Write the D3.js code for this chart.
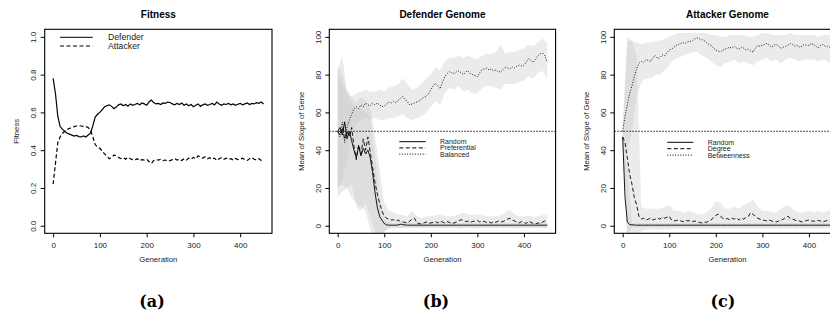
<!DOCTYPE html>
<html>
<head>
<meta charset="utf-8">
<script src="https://cdn.jsdelivr.net/npm/d3@7"></script>
<style>
  body { margin: 0; background: #fff; }
  svg { display: block; font-family: "Liberation Sans", Arial, sans-serif; }
</style>
</head>
<body>
<svg width="830" height="321"></svg>
<script>
// generations sampled every 5 (lines) and every 10 (bands)
let gens = d3.range(0, 451, 5)
let bandGens = d3.range(0, 451, 10)
let xTicks = [0, 100, 200, 300, 400]

// (a) Fitness
let fitDefender = [0.78,0.70,0.58,0.525,0.51,0.50,0.49,0.485,0.48,0.475,0.478,0.472,0.47,0.475,0.47,0.48,0.49,0.53,0.575,0.59,
  0.60,0.615,0.63,0.635,0.64,0.632,0.62,0.628,0.64,0.645,0.635,0.642,0.633,0.645,0.638,0.642,0.648,0.64,0.65,0.645,
  0.638,0.655,0.665,0.652,0.645,0.648,0.642,0.65,0.648,0.655,0.652,0.645,0.64,0.648,0.642,0.65,0.638,0.645,0.635,0.642,
  0.63,0.638,0.645,0.632,0.64,0.645,0.638,0.642,0.648,0.64,0.655,0.645,0.638,0.645,0.642,0.648,0.64,0.645,0.638,0.643,
  0.648,0.64,0.645,0.65,0.642,0.648,0.645,0.652,0.648,0.655,0.645]
let fitAttacker = [0.22,0.33,0.44,0.47,0.49,0.50,0.51,0.515,0.52,0.525,0.528,0.53,0.528,0.526,0.525,0.52,0.505,0.47,0.43,0.415,
  0.41,0.395,0.38,0.368,0.355,0.36,0.375,0.37,0.362,0.355,0.36,0.352,0.362,0.355,0.35,0.348,0.355,0.345,0.35,0.348,
  0.352,0.34,0.33,0.345,0.35,0.348,0.352,0.345,0.348,0.342,0.345,0.35,0.355,0.348,0.352,0.345,0.355,0.348,0.358,0.352,
  0.362,0.355,0.37,0.362,0.358,0.365,0.355,0.36,0.352,0.358,0.345,0.355,0.36,0.352,0.358,0.35,0.355,0.348,0.356,0.35,
  0.352,0.358,0.35,0.346,0.355,0.36,0.352,0.348,0.355,0.345,0.352]

// (b) Defender genome
let defRandom = [50,52,48,55,46,50,45,40,36,42,37,41,38,40,36,28,18,10,5,3,
  1.2,0.5,0.3,0.3,0.3,0.3,0.4,0.8,0.6,0.4,0.3,0.3,0.3,0.3,0.3,0.3,0.3,0.3,0.3,0.3,
  0.3,0.3,0.3,0.3,0.3,0.3,0.3,0.3,0.3,0.3,0.3,0.3,0.3,0.3,0.3,0.3,0.3,0.3,0.3,0.3,
  0.3,0.3,0.3,0.3,0.3,0.3,0.3,0.3,0.3,0.3,0.3,0.3,0.3,0.3,0.3,0.3,0.3,0.3,0.3,0.3,
  0.3,0.3,0.3,0.3,0.3,0.3,0.3,0.3,0.3,0.3,0.3]
let defPreferential = [50,48,52,46,50,47,52,42,35,43,38,46,40,47,39,31,23,17,12,8,
  5,4,3.5,3,3.2,2.5,3,2.2,2,1.8,1.5,2.5,3.5,4,1.5,1.2,0.8,1.5,2,1.2,
  1.5,1.8,2.2,1.5,2.5,2,1.5,2.2,1.8,1.2,1.5,2,2.5,3.2,2.8,2.2,2.5,1.8,2.2,2.5,
  2.8,2,2.5,2.2,1.8,2,1.5,2.2,1.8,2.5,2,2.2,2.8,3.5,4,3,2.5,2,1.5,2.2,
  1.8,1.2,2.5,1.8,1.2,1,1.5,1.2,2,2.5,2]
let defBalanced = [50,47,55,44,52,56,59,62,63,62,64,63,65,64,63.5,65,64,65,64,63,
  63.5,64.5,65.5,65,66,65,66.5,67.5,68.5,67,65.5,64,64.5,65,65.5,66,67,68,68.5,70,
  72,74,75.5,74,72.5,76,79,80.5,81.5,81,80.5,81.5,82,81,80,81.5,82,80.5,80,79.5,
  79,81,82.5,83,83.5,82.5,83,82,82.5,81.5,81.5,82.5,84,83.5,83,84,83.5,84.5,85,84.5,
  85,86.5,88.5,87.5,86.5,88,90,91,91.5,90,86.5]
let defRandomHi = [80,75,70,65,62,62,60,58,38,15,4,2,1.5,1.5,1.5,1.5,1.5,1.5,1.5,1.5,1.5,1.5,1.5,1.5,
  1.5,1.5,1.5,1.5,1.5,1.5,1.5,1.5,1.5,1.5,1.5,1.5,1.5,1.5,1.5,1.5,1.5,1.5,1.5,1.5,1.5,1.5]
let defRandomLo = [20,22,20,15,12,10,8,-2,-6,-6,-3,-1.5,-1.2,-1.2,-1.2,-1.2,-1.2,-1.2,-1.2,-1.2,-1.2,-1.2,-1.2,-1.2,
  -1.2,-1.2,-1.2,-1.2,-1.2,-1.2,-1.2,-1.2,-1.2,-1.2,-1.2,-1.2,-1.2,-1.2,-1.2,-1.2,-1.2,-1.2,-1.2,-1.2,-1.2,-1.2]
let defPrefHi = [85,80,72,68,65,68,66,62,48,30,12,8,7,6,5.5,5,8,5,4,5,5,5.5,6,5,5,5,6,7,6,5.5,
  6,5.5,5,5,5,5.5,7,8.5,6,5,5,5.5,4.5,5,5.5,5.5]
let defPrefLo = [15,18,20,22,10,8,12,5,-3,-5,-3,-1,-1,-1,-1,-1,-1,-1,-1,-1,-1,-1,-1,-1,-1,-1,-1,-1,-1,-1,
  -1,-1,-1,-1,-1,-1,-1,-1,-1,-1,-1,-1,-1,-1,-1,-1]
let defBalHi = [82,90,70,68,70,71,72,71,71,72,71,73,74,75,78,75,72,73,75,78,80,84,82,87,89,89,90,89,90,89,
  88,90,91,91,92,96,91,92,92,93,94,96,95,97,99,97]
let defBalLo = [20,25,35,48,54,56,57,56,57,56,56,57,57,58,59,57,56,57,58,60,63,66,64,70,73,72,74,71,72,70,
  70,73,74,74,73,72,75,75,75,76,77,79,78,81,82,78]

// (c) Attacker genome
let attRandom = [47,15,2,0.6,0.5,0.4,0.3,0.3,0.3,0.3,0.3,0.3,0.3,0.3,0.3,0.3,0.3,0.3,0.3,0.3,
  0.3,0.3,0.3,0.3,0.3,0.3,0.3,0.3,0.3,0.3,0.3,0.3,0.3,0.3,0.3,0.3,0.3,0.3,0.3,0.3,
  0.3,0.3,0.3,0.3,0.3,0.3,0.3,0.3,0.3,0.3,0.3,0.3,0.3,0.3,0.3,0.3,0.3,0.3,0.3,0.3,
  0.3,0.3,0.3,0.3,0.3,0.3,0.3,0.3,0.3,0.3,0.3,0.3,0.3,0.3,0.3,0.3,0.3,0.3,0.3,0.3,
  0.3,0.3,0.3,0.3,0.3,0.3,0.3,0.3,0.3,0.3,0.3]
let attDegree = [47,44,36,27,22,15,11,5,3.5,4,3,3.5,4,3,3.5,4,3.5,4.5,4,4.5,
  5,3,2.5,2.8,3,2.5,2.2,3,2.5,2.8,2.2,2.5,2,1.8,1.5,2,1.8,2.5,3,4.5,
  5.5,6.2,5,4,3.5,3.8,3.2,4,3.5,4.2,3,4,3.5,4.5,5,7,6,5,4,3.5,
  3,2.8,2.5,3,2.5,2.2,2,2.5,3,3.5,4.5,5,4,3.5,3,2.5,2.5,2,2.2,2.8,
  3,2.5,2.5,2.2,2.8,2.5,2,2.5,2.8,2.5,2.5]
let attBetweenness = [50,58,64,70,74,79,83,86,87,86.5,88,87.5,87,89,90,88.5,89,90.5,90,91.5,
  93,93.5,94.5,95.5,96,96.5,97,96.5,97.5,97.5,98,99,99.5,99,98.5,98,97,96,95.5,94,
  93,92.5,92,93,93.5,94,94.5,94,95,94,93.5,94.5,94,93,93.5,92.5,92,94,95.5,95,
  95.5,96,96.5,95.5,94.5,95.5,96,95,94,94.5,95,95.5,96.5,96,95,95.5,94.5,95,96,95.5,
  95.5,96.5,96,95,94,95.5,96,95,95,94.5,93]
let attRandomHi = [50,30,1.5,1.5,1.5,1.5,1.5,1.5,1.5,1.5,1.5,1.5,1.5,1.5,1.5,1.5,1.5,1.5,1.5,1.5,1.5,1.5,1.5,
  1.5,1.5,1.5,1.5,1.5,1.5,1.5,1.5,1.5,1.5,1.5,1.5,1.5,1.5,1.5,1.5,1.5,1.5,1.5,1.5,1.5,1.5,1.5]
let attRandomLo = [40,-5,-1,-0.8,-0.8,-0.8,-0.8,-0.8,-0.8,-0.8,-0.8,-0.8,-0.8,-0.8,-0.8,-0.8,-0.8,-0.8,-0.8,-0.8,-0.8,-0.8,-0.8,
  -0.8,-0.8,-0.8,-0.8,-0.8,-0.8,-0.8,-0.8,-0.8,-0.8,-0.8,-0.8,-0.8,-0.8,-0.8,-0.8,-0.8,-0.8,-0.8,-0.8,-0.8,-0.8,-0.8]
let attDegHi = [52,100,98,90,10,9,9,9,9,10,11,8,8,7,8,7,6,6,7,9,13,12,9,9,10,9,11,12,14,10,
  8,8,7,7,9,11,10,8,7,7,8,7,8,7,8,8]
let attDegLo = [42,-5,-5,-5,-3,-2,-2,-2,-2,-2,-2,-1.5,-1.5,-1.5,-1.5,-1.5,-1.5,-1.5,-1.5,-1.5,-1.5,-1.5,-1.5,-1.5,
  -1.5,-1.5,-1.5,-1.5,-1.5,-1.5,-1.5,-1.5,-1.5,-1.5,-1.5,-1.5,-1.5,-1.5,-1.5,-1.5,-1.5,-1.5,-1.5,-1.5,-1.5,-1.5]
let attBetHi = [52,98,98,97,96,97,97,98,98,99,100,101,102,102,102,102,102,102,102,101,101,100,100,101,101,101,101,100,100,101,
  102,102,101,101,101,101,102,101,101,101,101,101,100,101,101,101]
let attBetLo = [48,40,50,68,76,78,78,80,80,82,85,88,89,90,91,92,92,90,89,87,85,84,86,87,88,86,87,86,85,87,
  88,89,87,88,86,88,89,88,87,88,88,88,87,88,87,85]

let svg = d3.select('svg')
let solid = null
let dashed = '4,2.5'
let dotted = '1,1.6'

let panels = [
  {
    title: 'Fitness', ylab: 'Fitness', left: 44.7, right: 272,
    yDomain: [-0.04, 1.04], yTicks: [0, 0.2, 0.4, 0.6, 0.8, 1.0], yFmt: d3.format('.1f'),
    bands: [],
    lines: [{ v: fitDefender, dash: solid }, { v: fitAttacker, dash: dashed }],
    legend: { x1: 60, x2: 92.7, tx: 108, y0: 37.3, dy: 8.7, size: 8.7, labels: ['Defender', 'Attacker'], dashes: [solid, dashed] },
    ref: null, tag: '(a)'
  },
  {
    title: 'Defender Genome', ylab: 'Mean of Slope of Gene', left: 329.3, right: 555.6,
    yDomain: [-4, 104], yTicks: [0, 20, 40, 60, 80, 100], yFmt: d3.format('d'),
    bands: [[defBalLo, defBalHi], [defRandomLo, defRandomHi], [defPrefLo, defPrefHi]],
    lines: [{ v: defRandom, dash: solid }, { v: defPreferential, dash: dashed }, { v: defBalanced, dash: dotted }],
    legend: { x1: 399.3, x2: 425.7, tx: 440, y0: 141.7, dy: 6.2, size: 7, labels: ['Random', 'Preferential', 'Balanced'], dashes: [solid, dashed, dotted] },
    ref: 50, tag: '(b)'
  },
  {
    title: 'Attacker Genome', ylab: 'Mean of Slope of Gene', left: 614.3, right: 840.6,
    yDomain: [-4, 104], yTicks: [0, 20, 40, 60, 80, 100], yFmt: d3.format('d'),
    bands: [[attBetLo, attBetHi], [attRandomLo, attRandomHi], [attDegLo, attDegHi]],
    lines: [{ v: attRandom, dash: solid }, { v: attDegree, dash: dashed }, { v: attBetweenness, dash: dotted }],
    legend: { x1: 667.3, x2: 693.3, tx: 707.7, y0: 142.3, dy: 6.4, size: 7, labels: ['Random', 'Degree', 'Betweenness'], dashes: [solid, dashed, dotted] },
    ref: 50, tag: '(c)'
  }
]

let plotTop = 29.3
let plotBottom = 233.3

let drawPanel = (p, k) => {
  let x = d3.scaleLinear().domain([-18, 468]).range([p.left, p.right])
  let y = d3.scaleLinear().domain(p.yDomain).range([plotBottom, plotTop])
  let g = svg.append('g')

  g.append('clipPath').attr('id', 'clip' + k)
    .append('rect')
    .attr('x', p.left).attr('y', plotTop)
    .attr('width', p.right - p.left).attr('height', plotBottom - plotTop)

  let plot = g.append('g').attr('clip-path', 'url(#clip' + k + ')')

  let area = d3.area()
    .x((d) => x(d[0]))
    .y0((d) => y(d[1]))
    .y1((d) => y(d[2]))

  p.bands.forEach((b) => {
    plot.append('path')
      .attr('d', area(bandGens.map((gen, i) => [gen, b[0][i], b[1][i]])))
      .attr('fill', '#c8c8c8')
      .attr('fill-opacity', 0.36)
  })

  if (p.ref !== null) {
    plot.append('line')
      .attr('x1', p.left).attr('x2', p.right)
      .attr('y1', y(p.ref)).attr('y2', y(p.ref))
      .attr('stroke', '#000').attr('stroke-width', 0.9)
      .attr('stroke-dasharray', '1.5,1.5')
  }

  let line = d3.line()
    .x((d) => x(d[0]))
    .y((d) => y(d[1]))

  p.lines.forEach((l) => {
    plot.append('path')
      .attr('d', line(gens.map((gen, i) => [gen, l.v[i]])))
      .attr('fill', 'none')
      .attr('stroke', '#000')
      .attr('stroke-width', k === 0 ? 1.2 : 0.9)
      .attr('stroke-dasharray', l.dash)
  })

  // box
  g.append('rect')
    .attr('x', p.left).attr('y', plotTop)
    .attr('width', p.right - p.left).attr('height', plotBottom - plotTop)
    .attr('fill', 'none').attr('stroke', '#000').attr('stroke-width', 1.1)

  // x axis
  let xAxis = g.append('g')
    .attr('transform', 'translate(0,' + plotBottom + ')')
    .call(d3.axisBottom(x).tickValues(xTicks).tickSize(4))
  xAxis.select('.domain').remove()
  xAxis.selectAll('line').attr('stroke', '#000')
  xAxis.selectAll('text')
    .attr('y', 15.2).attr('dy', 0)
    .style('font-size', '8px').style('font-family', 'Liberation Sans, Arial, sans-serif')
    .attr('fill', '#222')

  // y axis, labels rotated like R
  let yAxis = g.append('g')
    .attr('transform', 'translate(' + p.left + ',0)')
    .call(d3.axisLeft(y).tickValues(p.yTicks).tickFormat(p.yFmt).tickSize(4))
  yAxis.select('.domain').remove()
  yAxis.selectAll('line').attr('stroke', '#000')
  yAxis.selectAll('text')
    .attr('x', 0).attr('y', -8.5).attr('dy', 0)
    .attr('transform', 'rotate(-90)')
    .attr('text-anchor', 'middle')
    .style('font-size', '8px').style('font-family', 'Liberation Sans, Arial, sans-serif')
    .attr('fill', '#222')

  let cx = (p.left + p.right) / 2
  g.append('text')
    .attr('x', cx).attr('y', 17.6)
    .attr('text-anchor', 'middle')
    .attr('font-weight', 'bold').attr('font-size', 10)
    .text(p.title)

  g.append('text')
    .attr('x', cx).attr('y', 261.8)
    .attr('text-anchor', 'middle')
    .attr('font-size', 7.7).attr('fill', '#222')
    .text('Generation')

  let ly = p.left - 25.5
  g.append('text')
    .attr('transform', 'translate(' + ly + ',' + ((plotTop + plotBottom) / 2) + ') rotate(-90)')
    .attr('text-anchor', 'middle')
    .attr('font-size', 7.7).attr('fill', '#222')
    .text(p.ylab)

  // legend
  let lg = p.legend
  lg.labels.forEach((lab, i) => {
    let yy = lg.y0 + i * lg.dy
    g.append('line')
      .attr('x1', lg.x1).attr('x2', lg.x2)
      .attr('y1', yy).attr('y2', yy)
      .attr('stroke', '#000').attr('stroke-width', 1)
      .attr('stroke-dasharray', lg.dashes[i])
    g.append('text')
      .attr('x', lg.tx).attr('y', yy + lg.size * 0.36)
      .attr('font-size', lg.size).attr('fill', '#222')
      .text(lab)
  })

  // sub-figure tag
  svg.append('text')
    .attr('x', [152, 436, 723][k]).attr('y', 307)
    .attr('text-anchor', 'middle')
    .attr('font-family', 'DejaVu Serif, serif')
    .attr('font-weight', 'bold').attr('font-size', 16)
    .text(p.tag)
}

panels.forEach((p, k) => drawPanel(p, k))
</script>
</body>
</html>
